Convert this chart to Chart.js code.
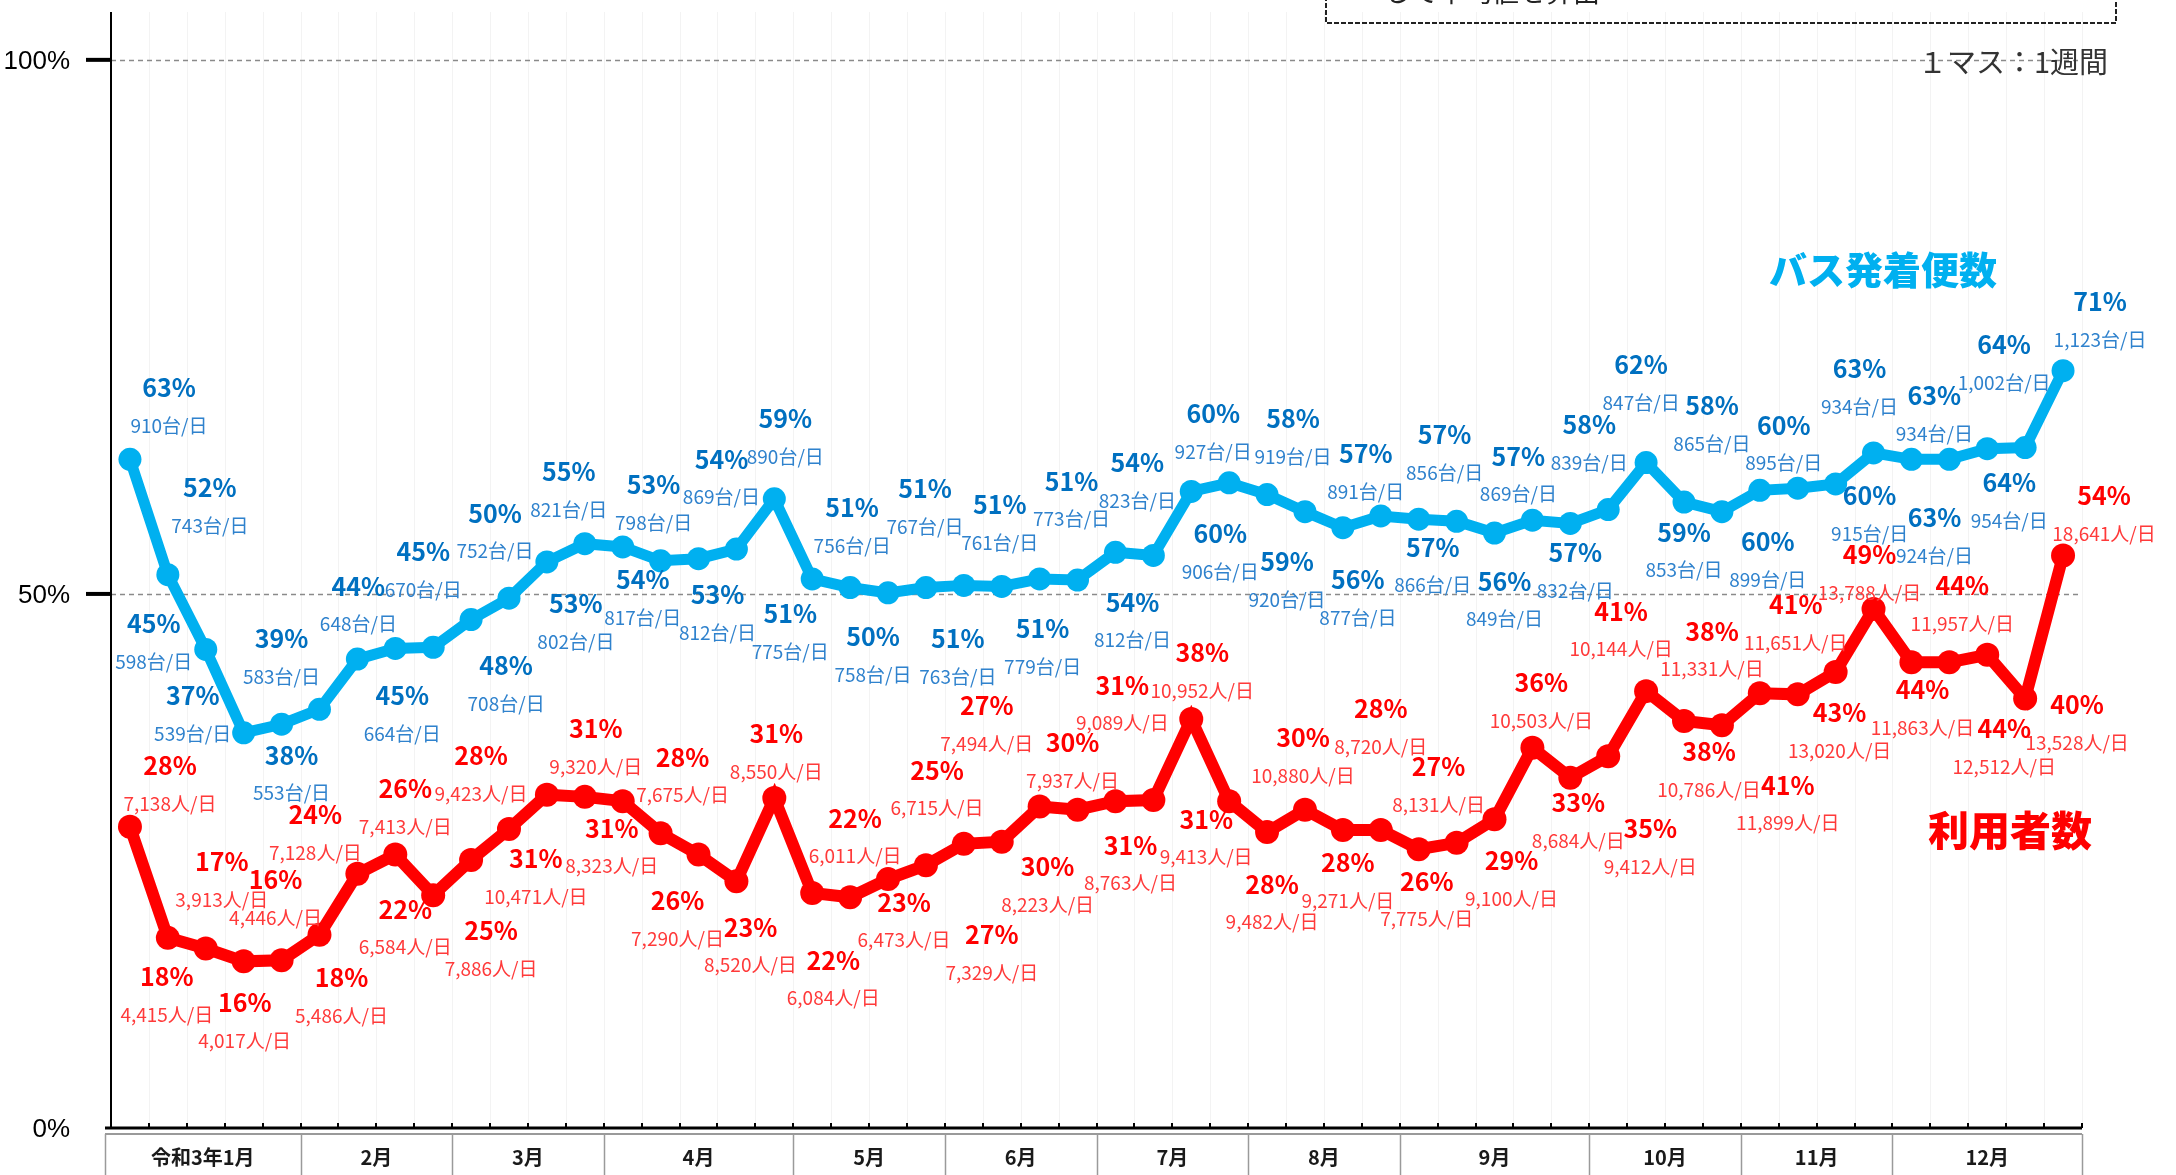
<!DOCTYPE html>
<html lang="ja">
<head>
<meta charset="utf-8">
<title>バス発着便数・利用者数の推移</title>
<script src="https://cdn.jsdelivr.net/npm/chart.js@4.4.0/dist/chart.umd.min.js"></script>
<style>
    html, body { margin: 0; padding: 0; background: #fff; }
    #chart { display: block; }
</style>
</head>
<body>
<canvas id="chart" width="2176" height="1175"></canvas>
<script>
// 月ラベルと各月の週数（1マス：1週間）
const monthLabels = ['令和3年1月', '2月', '3月', '4月', '5月', '6月', '7月', '8月', '9月', '10月', '11月', '12月'];
const monthWeeks = [5, 4, 4, 5, 4, 4, 4, 4, 5, 4, 4, 5];

// 週カテゴリ
const weeks = [];
monthLabels.forEach((m, i) => {
    for (let w = 1; w <= monthWeeks[i]; w++) weeks.push(m + ' 第' + w + '週');
});

// バス発着便数（%）と台/日
const busPct = [62.6, 51.8, 44.8, 37.0, 37.8, 39.2, 43.9, 44.9, 45.0, 47.6, 49.6, 53.0, 54.7, 54.4, 53.1, 53.3,
    54.2, 58.9, 51.4, 50.6, 50.1, 50.6, 50.8, 50.7, 51.4, 51.3, 53.9, 53.6, 59.6, 60.4, 59.3, 57.7, 56.2, 57.3,
    57.0, 56.8, 55.7, 56.9, 56.6, 57.9, 62.3, 58.6, 57.7, 59.7, 59.9, 60.3, 63.2, 62.6, 62.6, 63.6, 63.7, 70.9];
const busCount = [910, 743, 598, 539, 553, 583, 648, 664, 670, 708, 752, 802, 821, 817, 798, 812,
    869, 890, 775, 756, 758, 767, 763, 761, 779, 773, 812, 823, 906, 927, 920, 919, 877, 891,
    866, 856, 849, 869, 832, 839, 847, 853, 865, 899, 895, 915, 934, 924, 934, 954, 1002, 1123];

// 利用者数（%）と人/日
const userPct = [28.2, 17.8, 16.8, 15.6, 15.7, 18.1, 23.8, 25.6, 21.8, 25.1, 28.0, 31.2, 31.0, 30.6, 27.6, 25.6,
    23.1, 30.9, 22.0, 21.6, 23.3, 24.6, 26.6, 26.8, 30.1, 29.8, 30.6, 30.7, 38.3, 30.6, 27.7, 29.8, 27.9, 27.9,
    26.1, 26.7, 28.9, 35.6, 32.8, 34.8, 40.9, 38.1, 37.7, 40.7, 40.6, 42.7, 48.6, 43.6, 43.6, 44.3, 40.2, 53.6];
const userCount = [7138, 4415, 3913, 4017, 4446, 5486, 7128, 7413, 6584, 7886, 9423, 10471, 9320, 8323, 7675, 7290,
    8520, 8550, 6084, 6011, 6473, 6715, 7329, 7494, 8223, 7937, 8763, 9089, 10952, 9413, 9482, 10880, 9271, 8720,
    7775, 8131, 9100, 10503, 8684, 9412, 10144, 11331, 10786, 11899, 11651, 13020, 13788, 11863, 11957, 12512, 13528, 18641];

const yTicks = [0, 50, 100];

// データラベルの置き場所（点からのずれ, px）
const busLabelPos = [[39, -72], [42, -87], [-52, -26], [-51, -37], [10, 31], [-38, -71], [1, -73], [7, 47],
    [-10, -96], [35, 46], [-14, -85], [29, 42], [-16, -72], [20, 33], [-7, -76], [19, 36], [-15, -90], [11, -80],
    [-22, 35], [2, -80], [-15, 44], [-1, -99], [-6, 53], [-2, -82], [3, 50], [-6, -99], [17, 50], [-16, -93],
    [29, 42], [-16, -69], [20, 67], [-12, -93], [15, 52], [-15, -62], [14, 28], [-12, -87], [10, 48], [-14, -64],
    [5, 29], [-19, -85], [-5, -98], [0, 30], [-10, -106], [8, 51], [-14, -63], [34, 12], [-14, -84], [23, 58],
    [-15, -64], [22, 34], [-21, -103], [37, -69]];
const userLabelPos = [[40, -61], [-1, 39], [16, -87], [1, 41], [-6, -81], [22, 43], [-42, -59], [10, -66],
    [-28, 14], [20, 71], [-28, -73], [-11, 64], [11, -68], [-11, 27], [22, -76], [-21, 46], [14, 46], [2, -64],
    [21, 67], [5, -79], [16, 23], [11, -95], [28, 91], [-15, -136], [8, 60], [-5, -67], [15, 44], [-31, -115],
    [11, -66], [-23, 18], [5, 52], [-2, -72], [5, 33], [0, -121], [8, 32], [-18, -76], [17, 41], [9, -65],
    [8, 25], [42, 72], [-25, -80], [28, -90], [-13, 26], [28, 92], [-2, -90], [4, 41], [-4, -54], [11, 27],
    [13, -77], [17, 74], [52, 6], [41, -60]];

const JP = '"Noto Sans CJK JP", "Noto Sans", sans-serif';

function line(ctx, x1, y1, x2, y2) {
    ctx.beginPath();
    ctx.moveTo(x1, y1);
    ctx.lineTo(x2, y2);
    ctx.stroke();
}

/**
 * 週の区切り線、横の点線
 */
const gridPlugin = {
    id: 'weekGrid',
    beforeDatasetsDraw(chart) {
        const { ctx, chartArea: a, scales: { x, y } } = chart;
        const step = x.getPixelForValue(1) - x.getPixelForValue(0);
        const x0 = x.getPixelForValue(0) - step / 2;
        ctx.save();
        ctx.strokeStyle = '#f3f3f3';
        ctx.lineWidth = 1;
        for (let k = 1; k <= weeks.length; k++) {
            const px = Math.round(x0 + k * step) + 0.5;
            line(ctx, px, a.top, px, a.bottom);
        }
        ctx.strokeStyle = '#8a8a8a';
        ctx.lineWidth = 1.5;
        ctx.setLineDash([5, 4]);
        yTicks.filter(v => v > 0).forEach(v => {
            const py = Math.round(y.getPixelForValue(v)) + 0.5;
            line(ctx, a.left, py, a.right, py);
        });
        ctx.restore();
    }
};

/**
 * データラベル（% と 台/日・人/日）
 */
const labelPlugin = {
    id: 'pointLabels',
    afterDatasetsDraw(chart) {
        const ctx = chart.ctx;
        const sets = [
            { counts: busCount, pos: busLabelPos, unit: '台/日', pctColor: '#0070C0', cntColor: '#2F82CD' },
            { counts: userCount, pos: userLabelPos, unit: '人/日', pctColor: '#FF0000', cntColor: '#FF3A3A' }
        ];
        ctx.save();
        ctx.textAlign = 'center';
        ctx.textBaseline = 'middle';
        sets.forEach((s, di) => {
            const meta = chart.getDatasetMeta(di);
            const values = chart.data.datasets[di].data;
            meta.data.forEach((pt, i) => {
                const lx = pt.x + s.pos[i][0];
                const ly = pt.y + s.pos[i][1];
                ctx.font = 'bold 25px ' + JP;
                ctx.fillStyle = s.pctColor;
                ctx.fillText(Math.round(values[i]) + '%', lx, ly);
                ctx.font = '19px ' + JP;
                ctx.fillStyle = s.cntColor;
                ctx.fillText(s.counts[i].toLocaleString('en-US') + s.unit, lx, ly + 38);
            });
        });
        ctx.restore();
    }
};

/**
 * 軸、月の表、注記
 */
const framePlugin = {
    id: 'frame',
    afterDraw(chart) {
        const { ctx, chartArea: a, scales: { x, y } } = chart;
        const step = x.getPixelForValue(1) - x.getPixelForValue(0);
        const x0 = x.getPixelForValue(0) - step / 2;
        const H = chart.height;
        ctx.save();

        // y軸
        ctx.strokeStyle = '#000';
        ctx.lineWidth = 2;
        line(ctx, a.left, a.top, a.left, a.bottom);
        ctx.lineWidth = 4;
        ctx.font = '26px "Liberation Sans Narrow", "Liberation Sans", Arial, sans-serif';
        ctx.fillStyle = '#000';
        ctx.textAlign = 'right';
        ctx.textBaseline = 'middle';
        yTicks.forEach(v => {
            const py = y.getPixelForValue(v);
            if (v > 0) line(ctx, a.left - 25, py, a.left, py);
            ctx.fillText(v + '%', a.left - 41, py + 2);
        });

        // x軸と週の目盛
        ctx.lineWidth = 3;
        line(ctx, a.left - 6, a.bottom, a.right, a.bottom);
        ctx.lineWidth = 2;
        for (let k = 1; k <= weeks.length; k++) {
            const px = Math.round(x0 + k * step);
            line(ctx, px, a.bottom - 5, px, a.bottom);
        }

        // 月の表
        const top = a.bottom + 6;
        ctx.strokeStyle = '#9a9a9a';
        ctx.lineWidth = 2;
        line(ctx, a.left - 6, top, a.right, top);
        ctx.lineWidth = 1.5;
        ctx.font = 'bold 20px ' + JP;
        ctx.fillStyle = '#1a1a1a';
        ctx.textAlign = 'center';
        let k = 0;
        monthLabels.forEach((m, i) => {
            const xa = i === 0 ? a.left - 6 : x0 + k * step;
            k += monthWeeks[i];
            const xb = x0 + k * step;
            line(ctx, Math.round(xa) + 0.5, top, Math.round(xa) + 0.5, H);
            if (i === monthLabels.length - 1) line(ctx, Math.round(xb) + 0.5, top, Math.round(xb) + 0.5, H);
            ctx.fillText(m, (xa + xb) / 2, top + 23);
        });

        // 上の注記枠（上端で切れている）
        ctx.strokeStyle = '#222';
        ctx.lineWidth = 2;
        ctx.setLineDash([5, 2]);
        ctx.strokeRect(1326, -20, 790, 43);
        ctx.setLineDash([]);
        ctx.font = '27px ' + JP;
        ctx.fillStyle = '#222';
        ctx.textAlign = 'left';
        ctx.textBaseline = 'alphabetic';
        ctx.fillText('して平均値を算出', 1384, 2);

        ctx.font = '29px ' + JP;
        ctx.fillStyle = '#333';
        ctx.textAlign = 'right';
        ctx.textBaseline = 'middle';
        ctx.fillText('１マス：1週間', 2108, 62);

        // 系列名
        ctx.textAlign = 'center';
        ctx.font = '900 38px ' + JP;
        ctx.fillStyle = '#00B0F0';
        ctx.fillText(chart.data.datasets[0].label, 1883, 270);
        ctx.font = '900 41px ' + JP;
        ctx.fillStyle = '#FF0000';
        ctx.fillText(chart.data.datasets[1].label, 2010, 830);

        ctx.restore();
    }
};

new Chart(document.getElementById('chart').getContext('2d'), {
    type: 'line',
    data: {
        labels: weeks,
        datasets: [{
            label: 'バス発着便数',
            data: busPct,
            borderColor: '#00B0F0',
            backgroundColor: '#00B0F0',
            borderWidth: 11,
            pointRadius: 11.5,
            pointBorderWidth: 0,
            pointBackgroundColor: '#00B0F0',
            tension: 0
        }, {
            label: '利用者数',
            data: userPct,
            borderColor: '#FF0000',
            backgroundColor: '#FF0000',
            borderWidth: 12,
            pointRadius: 12,
            pointBorderWidth: 0,
            pointBackgroundColor: '#FF0000',
            tension: 0
        }]
    },
    options: {
        responsive: false,
        animation: false,
        layout: { padding: { left: 111, right: 94, top: 8, bottom: 47 } },
        plugins: {
            legend: { display: false },
            tooltip: { enabled: false }
        },
        scales: {
            x: { type: 'category', offset: true, display: false },
            y: { min: 0, max: 104.48, display: false }
        }
    },
    plugins: [gridPlugin, labelPlugin, framePlugin]
});
</script>
</body>
</html>
